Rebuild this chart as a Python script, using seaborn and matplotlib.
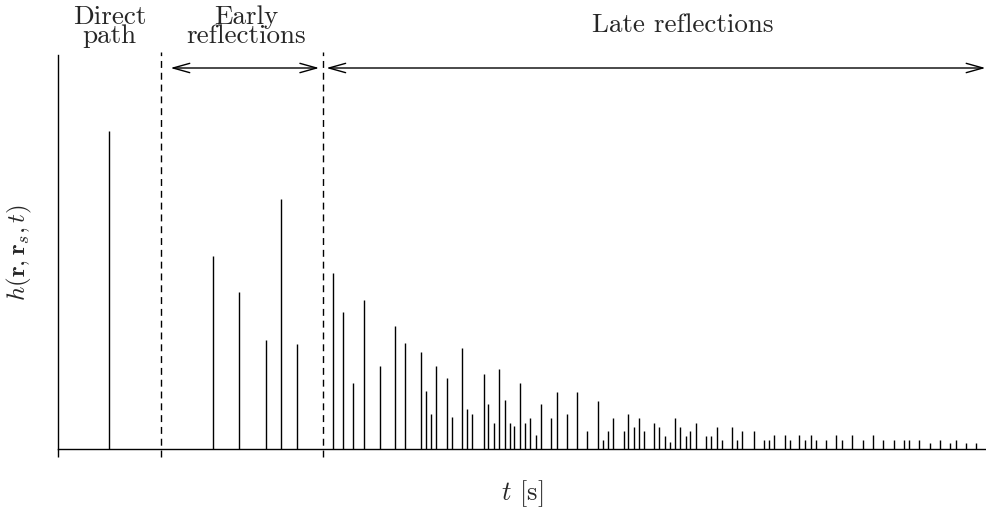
#!/usr/bin/env python3
# -*- coding: utf-8 -*-

import numpy as np
import pandas as pd
import matplotlib.pyplot as plt
import seaborn as sns

# -----------------------------------------------------------------------------
# Data (time in ms, amplitude normalised to axis height)
# -----------------------------------------------------------------------------
direct_t = [9.9]
direct_h = [0.807]

early_t = [30.0, 35.0, 40.3, 43.2, 46.3]
early_h = [0.490, 0.398, 0.277, 0.635, 0.266]

late_t = [53.2, 55.2, 57.2, 59.2, 62.3, 65.3, 67.2, 70.3, 71.3, 72.2,
          73.3, 75.3, 76.3, 78.3, 79.3, 80.3, 82.5, 83.3, 84.5, 85.5,
          86.6, 87.5, 88.3, 89.5, 90.5, 91.5, 92.6, 93.5, 95.5, 96.6,
          98.6, 100.5, 102.5, 104.6, 105.6, 106.6, 107.6, 109.6, 110.5, 111.6,
          112.5, 113.6, 115.5, 116.5, 117.6, 118.5, 119.6, 120.5, 121.6, 122.5,
          123.6, 125.5, 126.6, 127.6, 128.6, 130.6, 131.6, 132.6, 134.9, 136.8,
          137.8, 138.8, 140.8, 141.8, 143.6, 144.8, 145.9, 146.8, 148.8, 150.8,
          151.9, 153.9, 155.9, 157.9, 159.9, 161.9, 163.9, 164.9, 166.9, 168.9,
          170.9, 172.9, 173.9, 175.9, 177.9]
late_h = [0.447, 0.348, 0.168, 0.378, 0.211, 0.312, 0.269, 0.246, 0.147, 0.089,
          0.211, 0.180, 0.081, 0.256, 0.102, 0.089, 0.190, 0.114, 0.066, 0.203,
          0.124, 0.066, 0.058, 0.168, 0.066, 0.079, 0.036, 0.114, 0.079, 0.145,
          0.089, 0.145, 0.046, 0.122, 0.023, 0.046, 0.079, 0.046, 0.089, 0.056,
          0.079, 0.046, 0.066, 0.056, 0.033, 0.018, 0.079, 0.056, 0.033, 0.046,
          0.066, 0.033, 0.033, 0.056, 0.023, 0.056, 0.023, 0.046, 0.046, 0.023,
          0.023, 0.036, 0.036, 0.023, 0.036, 0.023, 0.036, 0.023, 0.023, 0.036,
          0.023, 0.036, 0.023, 0.036, 0.023, 0.023, 0.023, 0.023, 0.023, 0.015,
          0.023, 0.015, 0.023, 0.015, 0.015]

# region boundaries (dashed lines) and labels
boundaries = [20.0, 51.3]
region_labels = ["Direct\npath", "Early\nreflections", "Late reflections"]
label_x = [10.0, 36.4, 121.0]
t_max = 180.0

sns.set_style("white")
plt.rcParams['font.family'] = ['cmr10']
plt.rcParams['mathtext.fontset'] = 'cm'
plt.rcParams['axes.formatter.use_mathtext'] = True

FS = 19.5


def main():
    df = pd.DataFrame({
        't': direct_t + early_t + late_t,
        'h': direct_h + early_h + late_h,
    })

    fig = plt.figure(figsize=(9.87, 5.15), dpi=100)
    ax = fig.add_axes([58 / 987, 66 / 515, 929 / 987, 394 / 515])

    # stems
    ax.vlines(df['t'], 0, df['h'], color='black', linewidth=1.0)

    # region boundaries
    for b in boundaries:
        ax.axvline(b, ymin=-0.02, ymax=1.008, color='black', linewidth=1.0,
                   linestyle=(0, (5, 3.5)), clip_on=False)

    # arrows spanning the early and late parts
    arrow_y = 0.967
    spans = [(boundaries[0] + 1.8, boundaries[1] - 0.7),
             (boundaries[1] + 0.7, t_max - 0.3)]
    for x0, x1 in spans:
        ax.annotate("", xy=(x1, arrow_y), xytext=(x0, arrow_y),
                    arrowprops=dict(arrowstyle="<->,head_length=1.0,head_width=0.28",
                                    lw=1.0, color='black', shrinkA=0, shrinkB=0,
                                    mutation_scale=12),
                    annotation_clip=False)

    # region labels
    trans = ax.get_xaxis_transform()
    ax.text(label_x[0], 1.030, region_labels[0], transform=trans, ha='center',
            va='baseline', fontsize=FS, linespacing=0.74, clip_on=False)
    ax.text(label_x[1], 1.030, region_labels[1], transform=trans, ha='center',
            va='baseline', fontsize=FS, linespacing=0.74, clip_on=False)
    ax.text(label_x[2], 1.0576, region_labels[2], transform=trans, ha='center',
            va='baseline', fontsize=FS, clip_on=False)

    ax.set_xlim(0, t_max)
    ax.set_ylim(0, 1)
    ax.set_xticks([0])
    ax.set_xticklabels([""])
    ax.set_yticks([])
    ax.tick_params(axis='x', direction='out', length=5.5, width=1.0,
                   color='black', bottom=True)

    for side in ['top', 'right']:
        ax.spines[side].set_visible(False)
    for side in ['left', 'bottom']:
        ax.spines[side].set_color('black')
        ax.spines[side].set_linewidth(1.0)

    ax.set_xlabel(r"$t$ [s]", fontsize=19, labelpad=12)
    ax.set_ylabel(r"$h(\mathbf{r},\mathbf{r}_s,t)$", fontsize=18, labelpad=17)

    fig.savefig("out.png", dpi=100)
    plt.close(fig)


if __name__ == "__main__":
    main()
